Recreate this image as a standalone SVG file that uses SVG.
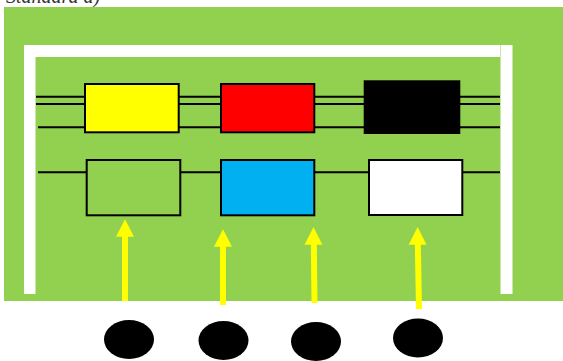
<svg xmlns="http://www.w3.org/2000/svg" width="563" height="361" viewBox="0 0 563 361">
<style>
.bg{fill:#92D050}
.frame{fill:#FFFFFF}
.box{stroke:#000000;stroke-width:2}
.wire{stroke:#000000;stroke-width:2;fill:none}
.arrow{stroke:#FFFF00;stroke-width:6;fill:none}
.head{fill:#FFFF00}
.dot{fill:#000000}
.cap{font-family:"Liberation Serif",serif;font-style:italic;font-size:20px;fill:#333333}
</style>
<rect width="563" height="361" fill="#FFFFFF"/>
<text class="cap" x="6" y="3">Standard   a)</text>
<rect class="bg" x="4" y="7" width="559" height="294"/>
<g id="frame">
<rect class="frame" x="24" y="45" width="476" height="12"/>
<rect class="frame" x="24" y="45" width="11.5" height="249"/>
<rect class="frame" x="500.5" y="45" width="12" height="249"/>
</g>
<g id="connectors">
<line class="wire" x1="36" y1="96.7" x2="500" y2="96.7"/>
<line class="wire" x1="36" y1="104" x2="500" y2="104"/>
<line class="wire" x1="38" y1="127.3" x2="500" y2="127.3"/>
<line class="wire" x1="38" y1="172.3" x2="500" y2="172.3"/>
<line class="arrow" x1="125" y1="301" x2="125" y2="234"/>
<polygon class="head" points="125,219.3 134,236.7 116,236.7"/>
<line class="arrow" x1="223" y1="305" x2="223" y2="244"/>
<polygon class="head" points="223,229.3 232,246.7 214,246.7"/>
<line class="arrow" x1="314.5" y1="303" x2="313.8" y2="242"/>
<polygon class="head" points="313.5,227 322.4,244.7 304.5,244.7"/>
<line class="arrow" x1="419" y1="309" x2="417.8" y2="242"/>
<polygon class="head" points="417.6,227 426.5,244.7 408.7,244.7"/>
</g>
<g id="node-yellow"><rect class="box" x="85" y="84" width="93.7" height="48.3" fill="#FFFF00"/></g>
<g id="node-red"><rect class="box" x="221" y="84" width="93.3" height="48.3" fill="#FF0000"/></g>
<g id="node-black"><rect class="box" x="364.7" y="81.3" width="94.6" height="51.7" fill="#000000"/></g>
<g id="node-green"><rect class="box" x="86.7" y="160" width="93.6" height="55.3" fill="#92D050"/></g>
<g id="node-blue"><rect class="box" x="221" y="160" width="93.3" height="55.3" fill="#00B0F0"/></g>
<g id="node-white"><rect class="box" x="369" y="160" width="93.3" height="55" fill="#FFFFFF"/></g>
<g id="dot-1"><ellipse class="dot" cx="129" cy="339.5" rx="25" ry="19.5"/></g>
<g id="dot-2"><ellipse class="dot" cx="223.5" cy="340.5" rx="25" ry="19.5"/></g>
<g id="dot-3"><ellipse class="dot" cx="316" cy="341.5" rx="25" ry="19.5"/></g>
<g id="dot-4"><ellipse class="dot" cx="418" cy="338" rx="25" ry="19.5"/></g>
</svg>
